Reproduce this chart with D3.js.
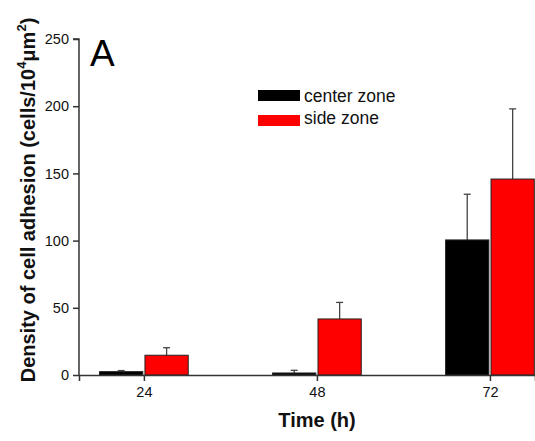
<!DOCTYPE html>
<html><head><meta charset="utf-8">
<script src="https://cdn.jsdelivr.net/npm/d3@7"></script>
<style>body{margin:0;background:#fff}svg{display:block}text{font-family:Arial,"Liberation Sans",sans-serif}</style>
</head><body>
<script>
const times = [24, 48, 72];
const seriesNames = ["center zone", "side zone"];
const seriesColors = ["#000000", "#ff0000"];
const centerValues = [2.5, 1.5, 100.5];
const centerErrors = [0.8, 2.0, 34];
const sideValues = [14.7, 41.7, 145.8];
const sideErrors = [5.6, 12.3, 52.2];
const yTicks = [0, 50, 100, 150, 200, 250];

const W = 535, H = 441;
const svg = d3.select("body").append("svg").attr("width", W).attr("height", H);

const x = d3.scaleLinear().domain([15, 78.25]).range([79, 535]);
const y = d3.scaleLinear().domain([0, 250]).range([375, 39]);
const barW = 6, gap = 0.15;

const series = [
  {name: seriesNames[0], color: seriesColors[0], vals: centerValues, errs: centerErrors, off: -gap - barW},
  {name: seriesNames[1], color: seriesColors[1], vals: sideValues, errs: sideErrors, off: gap}
];

series.forEach(s => {
  const g = svg.append("g");
  const data = times.map((t, i) => ({t, v: s.vals[i], e: s.errs[i]}));
  g.selectAll("line.err").data(data).enter().append("line")
    .attr("x1", d => x(d.t + s.off + barW / 2)).attr("x2", d => x(d.t + s.off + barW / 2))
    .attr("y1", d => y(d.v)).attr("y2", d => y(d.v + d.e))
    .attr("stroke", "#444").attr("stroke-width", 1.3);
  g.selectAll("line.cap").data(data).enter().append("line")
    .attr("x1", d => x(d.t + s.off + barW / 2) - 3.5).attr("x2", d => x(d.t + s.off + barW / 2) + 3.5)
    .attr("y1", d => y(d.v + d.e)).attr("y2", d => y(d.v + d.e))
    .attr("stroke", "#444").attr("stroke-width", 1.3);
  g.selectAll("rect").data(data).enter().append("rect")
    .attr("x", d => x(d.t + s.off)).attr("width", d => x(d.t + s.off + barW) - x(d.t + s.off))
    .attr("y", d => y(d.v)).attr("height", d => y(0) - y(d.v))
    .attr("fill", s.color).attr("stroke", "#222").attr("stroke-width", 1);
});

const yAxis = d3.axisLeft(y).tickValues(yTicks).tickSize(6).tickPadding(4);
const yg = svg.append("g").attr("transform", "translate(79,0)").call(yAxis);
const xAxis = d3.axisBottom(x).tickValues(times).tickSize(6).tickPadding(6);
const xg = svg.append("g").attr("transform", "translate(0,375)").call(xAxis);
[yg, xg].forEach(g => {
  g.select(".domain").attr("stroke", "#333").attr("stroke-width", 1.5);
  g.selectAll(".tick line").attr("stroke", "#333").attr("stroke-width", 1.5);
  g.selectAll(".tick text").attr("font-size", 14.5).attr("fill", "#111")
    .attr("font-family", "Arial, 'Liberation Sans', sans-serif");
});
yg.select(".domain").attr("d", "M-0,375V39H-6");

svg.append("text").attr("x", 90).attr("y", 66).attr("font-size", 37).attr("fill", "#000").text("A");

const leg = svg.append("g");
series.forEach((s, i) => {
  leg.append("rect").attr("x", 258).attr("y", 90 + i * 25).attr("width", 42).attr("height", 11)
    .attr("fill", s.color);
  leg.append("text").attr("x", 304).attr("y", 102 + i * 22).attr("font-size", 17.5).attr("fill", "#111").text(s.name);
});

svg.append("text").attr("x", 317).attr("y", 427).attr("text-anchor", "middle")
  .attr("font-size", 20).attr("font-weight", "bold").attr("fill", "#111").text("Time (h)");
const yt = svg.append("text").attr("transform", "translate(35,200) rotate(-90)")
  .attr("text-anchor", "middle").attr("font-size", 20).attr("font-weight", "bold").attr("fill", "#111");
yt.append("tspan").text("Density of cell adhesion (cells/10");
yt.append("tspan").attr("dy", -9).attr("font-size", 13).text("4");
yt.append("tspan").attr("dy", 9).text("\u03bcm");
yt.append("tspan").attr("dy", -9).attr("font-size", 13).text("2");
yt.append("tspan").attr("dy", 9).text(")");
</script>
</body></html>
